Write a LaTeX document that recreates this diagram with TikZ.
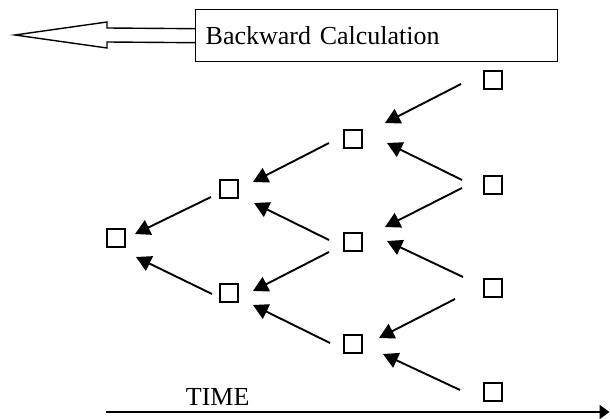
\documentclass[tikz,border=0pt]{standalone}
\usepackage{fontspec}
\setmainfont{Liberation Serif}
\usetikzlibrary{arrows.meta}

\begin{document}
\begin{tikzpicture}[
                        ->,
                        >={Triangle[length=15pt,width=16pt]},
                        x=1pt,
                        y=-1pt,
                        line width=1.9pt,
                        font=\fontsize{26}{30}\selectfont
                    ]
                    \tikzstyle{cell}=[draw,rectangle,minimum size=18pt,inner sep=0pt,line width=1.8pt]
                    \tikzstyle{banner}=[draw,rectangle,line width=1.4pt,anchor=north west,inner xsep=10pt,text width=342pt,minimum height=52pt,align=left]

                    \useasboundingbox (0,0) rectangle (610,419);

                    \node[cell]   (t0) at (116,238) {} ;
                    \node[cell]   (u1) at (229,189) {} ;
                    \node[cell]   (d1) at (229,293) {} ;
                    \node[cell]   (a2) at (353,139) {} ;
                    \node[cell]   (b2) at (353,242) {} ;
                    \node[cell]   (c2) at (353,344) {} ;
                    \node[cell]   (a3) at (493,80)  {} ;
                    \node[cell]   (b3) at (493,185) {} ;
                    \node[cell]   (c3) at (493,288) {} ;
                    \node[cell]   (d3) at (493,392) {} ;

                    \node[banner] (calc) at (195,9) {Backward Calculation} ;
                    \draw[-,line width=1.4pt]
                        ([shift={(0,-7)}]calc.west) -- (107,28) -- (107,22) -- (15,35)
                        -- (107,48) -- (107,42) -- ([shift={(0,7)}]calc.west) ;

                    \path
                    ([shift={(-18,8)}]u1.center)   edge ([shift={(19,-4)}]t0.center)
                    ([shift={(-17,1)}]d1.center)   edge ([shift={(20,19)}]t0.center)
                    ([shift={(-24,4)}]a2.center)   edge ([shift={(24,-7)}]u1.center)
                    ([shift={(-24,-2)}]b2.center)  edge ([shift={(25,14)}]u1.center)
                    ([shift={(-24,10)}]b2.center)  edge ([shift={(24,-2)}]d1.center)
                    ([shift={(-23,-1)}]c2.center)  edge ([shift={(24,12)}]d1.center)
                    ([shift={(-32,4)}]a3.center)   edge ([shift={(32,-16)}]a2.center)
                    ([shift={(-31,-5)}]b3.center)  edge ([shift={(34,4)}]a2.center)
                    ([shift={(-31,3)}]b3.center)   edge ([shift={(32,-15)}]b2.center)
                    ([shift={(-30,-11)}]c3.center) edge ([shift={(34,-1)}]b2.center)
                    ([shift={(-38,11)}]c3.center)  edge ([shift={(26,-6)}]c2.center)
                    ([shift={(-33,-2)}]d3.center)  edge ([shift={(30,10)}]c2.center) ;

                    % time axis
                    \node[anchor=base west,inner sep=0pt] (timelbl) at (185,405) {TIME} ;
                    \coordinate (tstart) at (106,412) ;
                    \coordinate (tend)   at (609.5,412) ;
                    \draw[-{Triangle[length=10pt,width=14pt]}] (tstart) -- (tend) ;

                \end{tikzpicture}
\end{document}
